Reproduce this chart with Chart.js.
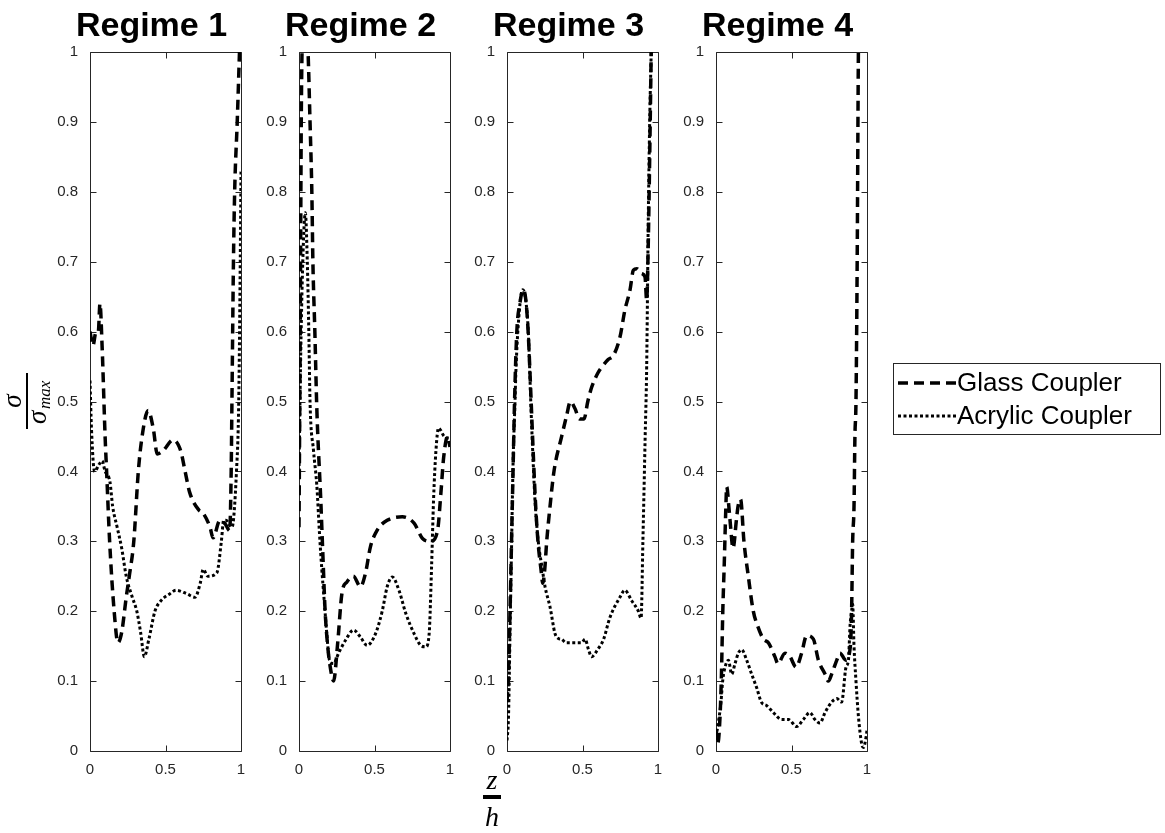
<!DOCTYPE html>
<html>
<head>
<meta charset="utf-8">
<script src="https://cdn.jsdelivr.net/npm/chart.js@4.4.1/dist/chart.umd.min.js"></script>
<style>
  html, body { margin: 0; padding: 0; background: #fff; }
  #wrap { position: relative; width: 1165px; height: 833px; overflow: hidden; background: #fff; }
  canvas { position: absolute; top: 0; }
</style>
</head>
<body>
<div id="wrap">
  <canvas id="regime1"></canvas>
  <canvas id="regime2"></canvas>
  <canvas id="regime3"></canvas>
  <canvas id="regime4"></canvas>
</div>
<script>
// titles, names, ticks
const regimeTitles = ['Regime 1', 'Regime 2', 'Regime 3', 'Regime 4'];
const seriesNames = ['Glass Coupler', 'Acrylic Coupler'];
const xTickValues = [0, 0.5, 1];
const yTickStep = 0.1;

// [z/h, sigma/sigma_max]
const regime1Glass = [
  [0, 0.6], [0.02, 0.58], [0.04, 0.6], [0.055, 0.6], [0.066, 0.64], [0.08, 0.58], [0.1, 0.45],
  [0.11, 0.4], [0.13, 0.3], [0.16, 0.2], [0.185, 0.155], [0.21, 0.17], [0.24, 0.22], [0.26, 0.25],
  [0.29, 0.3], [0.32, 0.4], [0.345, 0.45], [0.385, 0.487], [0.42, 0.46], [0.445, 0.425],
  [0.485, 0.43], [0.55, 0.445], [0.6, 0.43], [0.63, 0.4], [0.66, 0.37], [0.72, 0.345],
  [0.75, 0.34], [0.795, 0.32], [0.815, 0.305], [0.86, 0.33], [0.895, 0.325], [0.925, 0.315],
  [0.935, 0.4], [0.94, 0.5], [0.95, 0.7], [0.958, 0.8], [0.975, 0.9], [0.99, 1.0]
];
const regime1Acrylic = [
  [0, 0.53], [0.01, 0.46], [0.03, 0.4], [0.06, 0.41], [0.08, 0.415], [0.1, 0.4], [0.132, 0.385],
  [0.15, 0.35], [0.18, 0.32], [0.21, 0.29], [0.24, 0.25], [0.28, 0.22], [0.31, 0.2], [0.335, 0.17],
  [0.36, 0.135], [0.39, 0.16], [0.43, 0.2], [0.47, 0.215], [0.53, 0.225], [0.57, 0.23],
  [0.64, 0.225], [0.695, 0.22], [0.73, 0.24], [0.75, 0.26], [0.78, 0.25], [0.84, 0.255],
  [0.87, 0.3], [0.885, 0.33], [0.9, 0.33], [0.94, 0.32], [0.97, 0.4], [0.985, 0.5], [0.995, 0.7],
  [1.0, 0.83]
];
const regime2Glass = [
  [0, 0.32], [0.008, 0.6], [0.015, 0.9], [0.02, 1.0], [0.04, 1.08], [0.06, 1.0], [0.073, 0.9],
  [0.085, 0.8], [0.092, 0.7], [0.105, 0.6], [0.118, 0.49], [0.144, 0.36], [0.16, 0.27],
  [0.173, 0.2], [0.19, 0.15], [0.207, 0.12], [0.229, 0.1], [0.256, 0.154], [0.284, 0.225],
  [0.318, 0.242], [0.36, 0.25], [0.407, 0.235], [0.44, 0.254], [0.473, 0.292], [0.518, 0.316],
  [0.584, 0.33], [0.684, 0.335], [0.762, 0.326], [0.818, 0.304], [0.873, 0.3], [0.918, 0.316],
  [0.94, 0.37], [0.958, 0.42], [0.984, 0.45], [1.0, 0.435]
];
const regime2Acrylic = [
  [0, 0.4], [0.01, 0.55], [0.025, 0.7], [0.042, 0.77], [0.055, 0.7], [0.065, 0.6], [0.073, 0.5],
  [0.096, 0.43], [0.118, 0.38], [0.136, 0.31], [0.151, 0.26], [0.167, 0.215], [0.184, 0.168],
  [0.202, 0.13], [0.229, 0.125], [0.262, 0.14], [0.307, 0.158], [0.362, 0.173], [0.407, 0.163],
  [0.451, 0.151], [0.507, 0.168], [0.551, 0.2], [0.584, 0.235], [0.618, 0.249], [0.662, 0.23],
  [0.707, 0.197], [0.762, 0.168], [0.807, 0.151], [0.84, 0.149], [0.862, 0.168], [0.878, 0.264],
  [0.891, 0.359], [0.907, 0.43], [0.924, 0.462], [0.962, 0.45], [1.0, 0.447]
];
const regime3Glass = [
  [0, 0.07], [0.01, 0.11], [0.02, 0.2], [0.03, 0.3], [0.04, 0.4], [0.05, 0.5], [0.065, 0.6],
  [0.085, 0.64], [0.108, 0.66], [0.125, 0.645], [0.14, 0.6], [0.16, 0.5], [0.175, 0.42],
  [0.19, 0.35], [0.205, 0.3], [0.225, 0.26], [0.237, 0.24], [0.25, 0.26], [0.263, 0.3],
  [0.285, 0.35], [0.311, 0.4], [0.362, 0.45], [0.395, 0.48], [0.42, 0.5], [0.45, 0.49],
  [0.48, 0.475], [0.51, 0.475], [0.535, 0.5], [0.56, 0.52], [0.6, 0.54], [0.627, 0.549],
  [0.67, 0.56], [0.705, 0.566], [0.748, 0.592], [0.78, 0.63], [0.815, 0.66], [0.837, 0.688],
  [0.86, 0.69], [0.892, 0.683], [0.914, 0.678], [0.925, 0.645], [0.935, 0.72], [0.945, 0.85],
  [0.955, 1.0]
];
const regime3Acrylic = [
  [0, 0.015], [0.01, 0.05], [0.02, 0.17], [0.03, 0.29], [0.04, 0.41], [0.053, 0.5], [0.06, 0.55],
  [0.086, 0.64], [0.105, 0.66], [0.124, 0.645], [0.141, 0.6], [0.159, 0.49], [0.174, 0.41],
  [0.185, 0.36], [0.207, 0.3], [0.234, 0.26], [0.252, 0.235], [0.285, 0.206], [0.318, 0.168],
  [0.34, 0.161], [0.362, 0.16], [0.39, 0.155], [0.42, 0.155], [0.46, 0.155], [0.495, 0.155],
  [0.517, 0.16], [0.54, 0.145], [0.56, 0.135], [0.6, 0.145], [0.64, 0.16], [0.68, 0.19],
  [0.748, 0.22], [0.78, 0.23], [0.826, 0.215], [0.87, 0.2], [0.888, 0.19], [0.9, 0.3],
  [0.915, 0.45], [0.925, 0.55], [0.935, 0.75], [0.945, 0.9], [0.955, 1.0]
];
const regime4Glass = [
  [0, 0.03], [0.01, 0.01], [0.022, 0.03], [0.035, 0.1], [0.045, 0.2], [0.055, 0.27],
  [0.064, 0.34], [0.071, 0.378], [0.085, 0.35], [0.093, 0.33], [0.113, 0.29], [0.135, 0.33],
  [0.146, 0.35], [0.163, 0.36], [0.185, 0.3], [0.214, 0.25], [0.247, 0.2], [0.274, 0.18],
  [0.314, 0.16], [0.347, 0.155], [0.39, 0.135], [0.41, 0.125], [0.457, 0.14], [0.49, 0.135],
  [0.53, 0.12], [0.567, 0.14], [0.6, 0.165], [0.645, 0.16], [0.678, 0.13], [0.722, 0.11],
  [0.744, 0.1], [0.766, 0.11], [0.8, 0.13], [0.821, 0.14], [0.86, 0.13], [0.89, 0.15],
  [0.898, 0.2], [0.905, 0.3], [0.914, 0.35], [0.92, 0.45], [0.927, 0.5], [0.935, 0.7],
  [0.943, 1.0], [0.95, 1.1]
];
const regime4Acrylic = [
  [0, 0.02], [0.015, 0.04], [0.033, 0.07], [0.044, 0.1], [0.06, 0.12], [0.082, 0.13],
  [0.104, 0.11], [0.126, 0.125], [0.148, 0.14], [0.17, 0.145], [0.203, 0.13], [0.236, 0.11],
  [0.27, 0.09], [0.3, 0.07], [0.336, 0.065], [0.38, 0.055], [0.435, 0.045], [0.48, 0.045],
  [0.534, 0.035], [0.578, 0.045], [0.622, 0.055], [0.655, 0.045], [0.689, 0.04], [0.722, 0.055],
  [0.766, 0.07], [0.8, 0.075], [0.832, 0.07], [0.861, 0.12], [0.877, 0.13], [0.888, 0.18],
  [0.898, 0.2], [0.905, 0.21], [0.914, 0.15], [0.927, 0.1], [0.943, 0.05], [0.965, 0.01],
  [0.976, 0.005], [0.994, 0.02], [1.0, 0.03]
];

const regimeData = [
  [regime1Glass, regime1Acrylic],
  [regime2Glass, regime2Acrylic],
  [regime3Glass, regime3Acrylic],
  [regime4Glass, regime4Acrylic]
];

const AXIS_COLOR = '#262626';
const SANS = '"Liberation Sans", Arial, Helvetica, sans-serif';
const SERIF = '"Liberation Serif", "DejaVu Serif", serif';

// "1.0" -> "1", "0.30000000000000004" -> "0.3"
function tickText(v) {
  return String(Number(Number(v).toFixed(2)));
}

// box, inward ticks and the bold title of each panel
const axesFrame = {
  id: 'axesFrame',
  beforeDatasetsDraw(chart, args, opts) {
    const { ctx, chartArea: a, scales: { x, y } } = chart;
    ctx.save();
    ctx.strokeStyle = AXIS_COLOR;
    ctx.lineWidth = 1;
    ctx.beginPath();
    const L = Math.round(a.left) + 0.5, R = Math.round(a.right) + 0.5;
    const T = Math.round(a.top) + 0.5, B = Math.round(a.bottom) + 0.5;
    ctx.rect(L, T, R - L, B - T);
    y.ticks.forEach(t => {
      const py = Math.round(y.getPixelForValue(t.value)) + 0.5;
      ctx.moveTo(L, py); ctx.lineTo(L + 6, py);
      ctx.moveTo(R, py); ctx.lineTo(R - 6, py);
    });
    x.ticks.forEach(t => {
      const px = Math.round(x.getPixelForValue(t.value)) + 0.5;
      ctx.moveTo(px, B); ctx.lineTo(px, B - 6);
      ctx.moveTo(px, T); ctx.lineTo(px, T + 6);
    });
    ctx.stroke();
    ctx.fillStyle = '#000';
    ctx.font = 'bold 34px ' + SANS;
    ctx.textAlign = 'center';
    ctx.textBaseline = 'alphabetic';
    ctx.fillText(opts.title, (a.left + a.right) / 2 - 14, 36);
    ctx.restore();
  }
};

// axis labels written as fractions, and the legend box
const extras = {
  id: 'extras',
  afterDraw(chart, args, opts) {
    const ctx = chart.ctx;
    const off = opts.left || 0;
    ctx.save();
    ctx.fillStyle = '#000';
    if (opts.ylabel) {
      ctx.translate(27 - off, 401);
      ctx.rotate(-Math.PI / 2);
      ctx.fillRect(-28, -1, 56, 2);
      ctx.textAlign = 'center';
      ctx.textBaseline = 'alphabetic';
      ctx.font = 'italic 27px ' + SERIF;
      ctx.fillText('\u03C3', 0, -6);
      ctx.textAlign = 'left';
      ctx.fillText('\u03C3', -23, 19);
      ctx.font = 'italic 17px ' + SERIF;
      ctx.fillText('max', -8, 23);
    }
    if (opts.xlabel) {
      const cx = 492 - off;
      ctx.textAlign = 'center';
      ctx.textBaseline = 'alphabetic';
      ctx.font = 'italic 28px ' + SERIF;
      ctx.fillText('z', cx, 789);
      ctx.fillRect(cx - 9, 795, 18, 4);
      ctx.fillText('h', cx, 826);
    }
    if (opts.legend) {
      const bx = 893 - off, by = 363, bw = 267, bh = 71;
      ctx.fillStyle = '#fff';
      ctx.fillRect(bx, by, bw, bh);
      ctx.strokeStyle = AXIS_COLOR;
      ctx.lineWidth = 1;
      ctx.strokeRect(bx + 0.5, by + 0.5, bw, bh);
      const rows = [383, 416];
      chart.data.datasets.forEach((ds, i) => {
        ctx.save();
        ctx.strokeStyle = ds.borderColor;
        ctx.lineWidth = ds.borderWidth;
        ctx.setLineDash(ds.borderDash);
        ctx.beginPath();
        ctx.moveTo(bx + 5, rows[i]);
        ctx.lineTo(bx + 63, rows[i]);
        ctx.stroke();
        ctx.restore();
        ctx.fillStyle = '#000';
        ctx.font = '26px ' + SANS;
        ctx.textAlign = 'left';
        ctx.textBaseline = 'middle';
        ctx.fillText(ds.label, bx + 64, rows[i] + 1);
      });
    }
    ctx.restore();
  }
};

// page x of each plot's left edge and width of its tick label column
const panelLeft = [90, 299, 507, 716];
const PLOT_W = 151;

function makeChart(i) {
  const axisW = i === 0 ? 90 : 60;
  const canvasLeft = panelLeft[i] - axisW;
  const canvasW = i === 3 ? 1165 - canvasLeft : axisW + PLOT_W + 20;
  const canvas = document.getElementById('regime' + (i + 1));
  canvas.width = canvasW;
  canvas.height = 833;
  canvas.style.left = canvasLeft + 'px';
  canvas.style.width = canvasW + 'px';
  canvas.style.height = '833px';

  const [glass, acrylic] = regimeData[i];
  const toPts = arr => arr.map(p => ({ x: p[0], y: p[1] }));

  return new Chart(canvas.getContext('2d'), {
    type: 'line',
    data: {
      datasets: [{
        label: seriesNames[0],
        data: toPts(glass),
        borderColor: '#000',
        borderWidth: 3.5,
        borderDash: [10, 6],
        cubicInterpolationMode: 'monotone',
        pointRadius: 0,
        fill: false,
        clip: 0
      }, {
        label: seriesNames[1],
        data: toPts(acrylic),
        borderColor: '#000',
        borderWidth: 3,
        borderDash: [3, 2.5],
        cubicInterpolationMode: 'monotone',
        pointRadius: 0,
        fill: false,
        clip: 0
      }]
    },
    options: {
      responsive: false,
      animation: false,
      devicePixelRatio: 1,
      layout: { padding: { left: 0, top: 52, right: canvasW - axisW - PLOT_W, bottom: 52 } },
      scales: {
        x: {
          type: 'linear',
          min: 0, max: 1,
          afterBuildTicks: s => { s.ticks = xTickValues.map(v => ({ value: v })); },
          afterFit: s => { s.height = 30; },
          grid: { display: false },
          border: { display: false },
          ticks: { color: AXIS_COLOR, font: { family: SANS, size: 15 }, padding: 2, maxRotation: 0, callback: tickText }
        },
        y: {
          type: 'linear',
          min: 0, max: 1,
          afterFit: s => { s.width = axisW; },
          grid: { display: false },
          border: { display: false },
          ticks: { stepSize: yTickStep, color: AXIS_COLOR, font: { family: SANS, size: 15 }, padding: 4, callback: tickText }
        }
      },
      plugins: {
        legend: { display: false },
        tooltip: { enabled: false },
        axesFrame: { title: regimeTitles[i] },
        extras: { left: canvasLeft, ylabel: i === 0, xlabel: i === 2, legend: i === 3 }
      }
    },
    plugins: [axesFrame, extras]
  });
}

const charts = [0, 1, 2, 3].map(makeChart);
</script>
</body>
</html>
